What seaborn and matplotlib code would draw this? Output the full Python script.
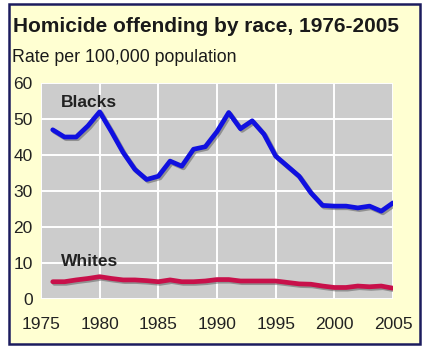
import matplotlib
matplotlib.use("Agg")
import matplotlib.pyplot as plt
import matplotlib.patheffects as pe
from matplotlib.patches import Rectangle
import seaborn as sns
import pandas as pd

years = list(range(1976, 2006))
blacks = [47.0, 45.0, 45.0, 48.1, 52.0, 46.5, 40.7, 36.0, 33.2, 34.1,
          38.3, 36.9, 41.6, 42.3, 46.5, 51.8, 47.3, 49.5, 45.8, 39.7,
          36.9, 34.1, 29.5, 26.0, 25.8, 25.8, 25.3, 25.8, 24.4, 26.7]
whites = [4.8, 4.8, 5.3, 5.7, 6.2, 5.7, 5.3, 5.3, 5.1, 4.8,
          5.3, 4.8, 4.8, 5.0, 5.4, 5.4, 5.0, 5.0, 5.0, 5.0,
          4.6, 4.2, 4.1, 3.6, 3.2, 3.2, 3.6, 3.4, 3.6, 3.0]
series_names = ["Blacks", "Whites"]
x_ticks = [1975, 1980, 1985, 1990, 1995, 2000, 2005]
y_ticks = [0, 10, 20, 30, 40, 50, 60]
title = "Homicide offending by race, 1976-2005"
subtitle = "Rate per 100,000 population"

df = pd.DataFrame({
    "year": years * 2,
    "rate": blacks + whites,
    "race": [series_names[0]] * len(years) + [series_names[1]] * len(years),
})

sns.set_style("white")
plt.rcParams["font.family"] = ["Liberation Sans", "DejaVu Sans"]

fig = plt.figure(figsize=(4.31, 3.54), dpi=100)
fig.patch.set_facecolor("white")
# yellow framed panel
panel = Rectangle((9 / 431, 1 - 344 / 354), (420 - 9) / 431, (344 - 4) / 354,
                  transform=fig.transFigure, facecolor="#FFFFD2",
                  edgecolor="#1C1C5E", linewidth=1.8, zorder=-5)
fig.add_artist(panel)

ax = fig.add_axes([41 / 431, 55 / 354, 352 / 431, 216 / 354])
ax.set_zorder(2)
ax.set_facecolor("#CCCCCC")

shadow = [pe.SimpleLineShadow(offset=(1.2, -1.2), shadow_color="#555555", alpha=0.5),
          pe.Normal()]
sns.lineplot(data=df, x="year", y="rate", hue="race",
             palette={"Blacks": "#1010E0", "Whites": "#C8104A"},
             linewidth=3.4, legend=False, ax=ax)
for ln in ax.get_lines():
    ln.set_path_effects(shadow)
    ln.set_solid_capstyle("round")
    ln.set_solid_joinstyle("round")

ax.set_xlim(1975, 2005)
ax.set_ylim(0, 60)
ax.set_xticks(x_ticks)
ax.set_yticks(y_ticks)
ax.grid(True, color="white", linewidth=1.4)
ax.set_axisbelow(True)
for s in ax.spines.values():
    s.set_visible(False)
ax.tick_params(axis="both", length=0, labelsize=12.5, colors="#222222")
ax.tick_params(axis="x", pad=13)
ax.tick_params(axis="y", pad=6)
ax.set_xlabel("")
ax.set_ylabel("")

ax.text(1976.7, 54.7, "Blacks", fontsize=12.5, fontweight="bold", color="#222222",
        va="center", ha="left")
ax.text(1976.7, 10.4, "Whites", fontsize=12.5, fontweight="bold", color="#222222",
        va="center", ha="left")

fig.text(13 / 431, 1 - 26 / 354, title, fontsize=15, fontweight="bold",
         color="#1a1a1a", va="center", ha="left")
fig.text(12 / 431, 1 - 58 / 354, subtitle, fontsize=12.8, color="#1a1a1a",
         va="center", ha="left")

fig.savefig("out.png", dpi=100, facecolor=fig.get_facecolor())
